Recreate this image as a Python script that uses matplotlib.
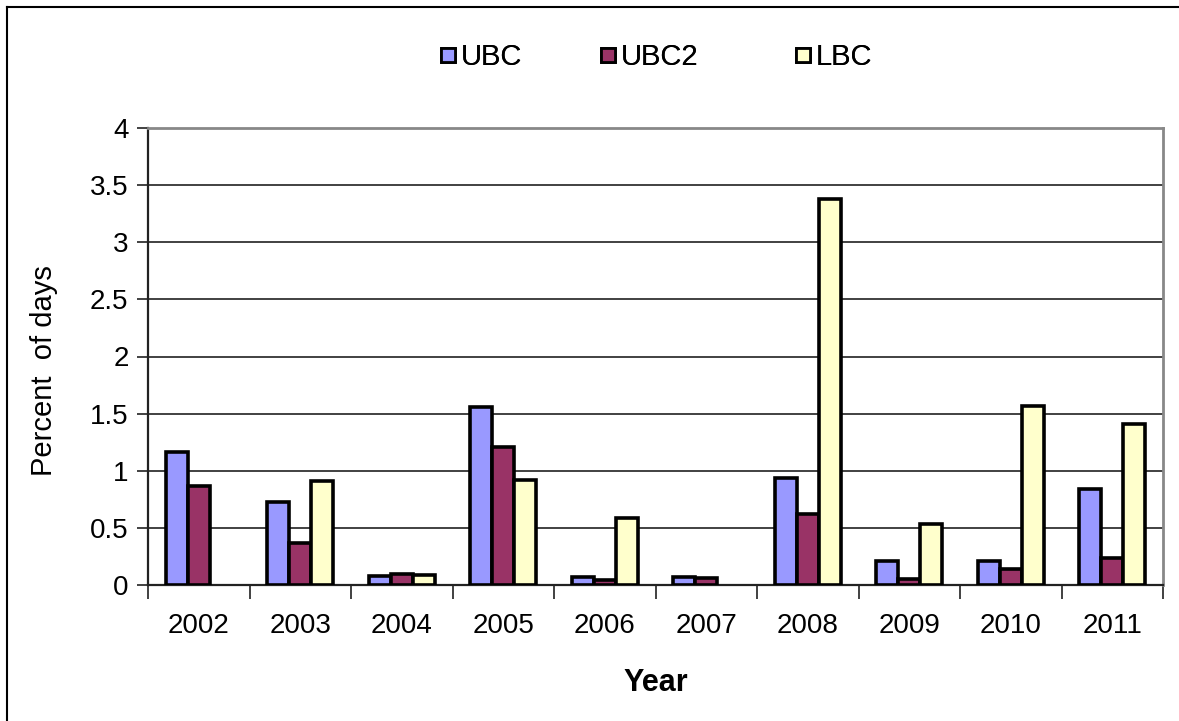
import matplotlib
matplotlib.use("Agg")
import matplotlib.pyplot as plt
from matplotlib.lines import Line2D
import numpy as np

years = ["2002", "2003", "2004", "2005", "2006", "2007", "2008", "2009", "2010", "2011"]
ubc = [1.16, 0.73, 0.08, 1.56, 0.07, 0.07, 0.94, 0.21, 0.21, 0.84]
ubc2 = [0.87, 0.37, 0.10, 1.21, 0.04, 0.06, 0.62, 0.05, 0.14, 0.24]
lbc = [0.0, 0.91, 0.09, 0.92, 0.59, 0.0, 3.38, 0.53, 1.57, 1.41]
series_names = ["UBC", "UBC2", "LBC"]
colors = ["#9999FF", "#993366", "#FFFFCC"]

plt.rcParams['font.family'] = ['Liberation Sans', 'DejaVu Sans']

fig = plt.figure(figsize=(11.79, 7.21), dpi=100)
ax = fig.add_axes([148/1179, 1-585/721, (1163-148)/1179, (585-128)/721])

x = np.arange(len(years))
w = 0.217
for i, (vals, c) in enumerate(zip([ubc, ubc2, lbc], colors)):
    xs = x + (i - 1) * w
    vv = np.array(vals)
    mask = vv > 0
    ax.bar(xs[mask], vv[mask], width=w, color=c, edgecolor='black', linewidth=2.6, zorder=3)

ax.set_xlim(-0.5, len(years) - 0.5)
ax.set_ylim(0, 4)
ax.set_yticks(np.arange(0, 4.01, 0.5))
ax.set_yticklabels(["0", "0.5", "1", "1.5", "2", "2.5", "3", "3.5", "4"])
ax.yaxis.grid(True, color='#333333', linewidth=1.3, zorder=0)
ax.set_axisbelow(True)

ax.set_xticks(np.arange(-0.5, len(years), 1.0))
ax.set_xticklabels([])
ax.set_xticks(x, minor=True)
ax.set_xticklabels(years, minor=True)
ax.tick_params(axis='x', which='major', direction='out', length=10, width=1.3, color='#333333')
ax.tick_params(axis='x', which='minor', length=0, pad=20, labelsize=20)
ax.tick_params(axis='y', direction='out', length=8, width=1.3, color='#333333', pad=6, labelsize=20)

for s in ['left', 'bottom']:
    ax.spines[s].set_color('#222222')
    ax.spines[s].set_linewidth(1.6)
for s in ['top', 'right']:
    ax.spines[s].set_color('#888888')
    ax.spines[s].set_linewidth(2)

ax.set_xlabel("Year", fontsize=22, fontweight='bold', labelpad=21)
ax.set_ylabel("Percent  of days", fontsize=21)
ax.yaxis.set_label_coords(-(148 - 44) / (1163 - 148), (585 - 371) / 457)
ax.yaxis.label.set_verticalalignment('center')

legend_x = [440, 600, 795]
for name, c, lx in zip(series_names, colors, legend_x):
    h = Line2D([], [], linestyle='none', marker='s', markersize=10.5,
               markerfacecolor=c, markeredgecolor='black', markeredgewidth=2)
    leg = fig.legend([h], [name], loc='center left', bbox_to_anchor=(lx / 1179, 1 - 57 / 721),
                     frameon=False, fontsize=21, handlelength=0.55,
                     handletextpad=0.15, borderpad=0, borderaxespad=0)
    fig.add_artist(leg)

fig.add_artist(Line2D([7/1179, 1.0], [1-7/721, 1-7/721], color='black', linewidth=1.5, transform=fig.transFigure))
fig.add_artist(Line2D([7/1179, 7/1179], [0, 1-7/721], color='black', linewidth=1.5, transform=fig.transFigure))

fig.savefig("out.png", dpi=100)
